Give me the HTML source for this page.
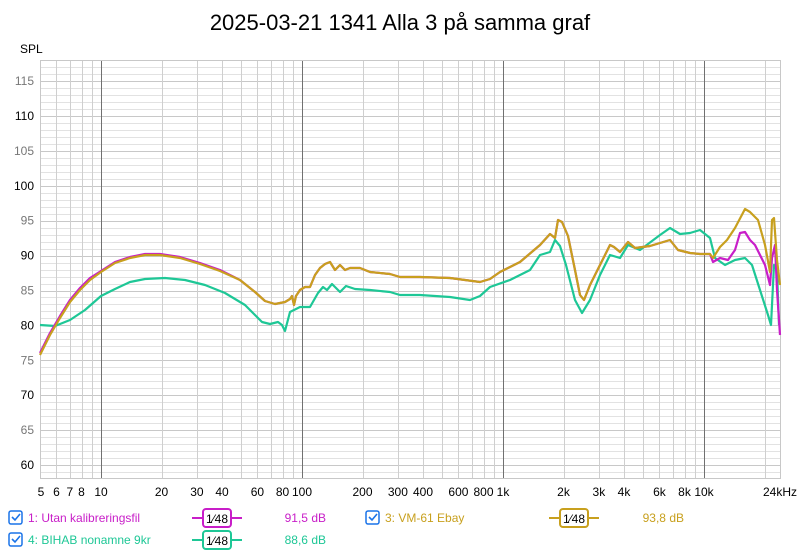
<!DOCTYPE html><html><head><meta charset="utf-8"><style>
body{margin:0;background:#fff;font-family:"Liberation Sans",sans-serif}
</style></head><body>
<svg width="800" height="551" xmlns="http://www.w3.org/2000/svg" font-family="Liberation Sans, sans-serif">
<rect width="800" height="551" fill="#fff"/>
<text x="400" y="30" font-size="22" text-anchor="middle" fill="#000">2025-03-21 1341 Alla 3 på samma graf</text>
<text x="20" y="53" font-size="12" fill="#000">SPL</text>
<g id="grid" stroke="#d4d4d4" stroke-width="1"></g>
<rect x="40.5" y="60.5" width="740" height="418" fill="none" stroke="#c8c8c8"/>
<g id="ylab" font-size="12" fill="#666" text-anchor="end"></g>
<g id="xlab" font-size="12" fill="#000" text-anchor="middle"></g>
<g fill="none" stroke-width="2.2" stroke-linejoin="round">
<polyline id="green" stroke="#1ec796" points="40,325 55,326 70,320 85,310 101,296 115,289 130,282 145,279 165,278 185,280 205,285 225,293 245,305 255,315 262,322 270,324 278,322 282,325 285,331 290,312 300,307 310,307 318,293 323,287 327,290 332,284 336,288 340,292 346,286 355,289 370,290 390,292 400,295 420,295 450,297 470,300 480,296 490,287 510,280 530,270 540,255 550,252 555,240 560,246 566,265 575,300 582,313 590,300 600,275 610,255 620,258 628,245 640,250 660,235 670,228 680,234 690,233 700,230 710,238 715,258 725,265 735,260 745,258 752,265 760,290 768,315 771,325 774,265 777,270 779,325"/>
<polyline id="mag" stroke="#c81ec8" points=""/>
<polyline id="gold" stroke="#c8a01e" points=""/>
</g>
<g font-size="12">
<rect x="9" y="511" width="13" height="13" rx="2" fill="#fff" stroke="#1a73e8" stroke-width="1.5"/><path d="M12 517 l3 3 l5 -6" stroke="#1a73e8" stroke-width="1.6" fill="none"/>
<text x="28" y="522" fill="#c81ec8">1: Utan kalibreringsfil</text>
<line x1="192" y1="518" x2="242" y2="518" stroke="#c81ec8" stroke-width="2"/><rect x="203" y="509" width="28" height="18" rx="3" fill="#fff" stroke="#c81ec8" stroke-width="2"/><text x="217" y="523" text-anchor="middle" fill="#000" font-size="12">1⁄48</text>
<text x="326" y="522" text-anchor="end" fill="#c81ec8">91,5 dB</text>
<rect x="366" y="511" width="13" height="13" rx="2" fill="#fff" stroke="#1a73e8" stroke-width="1.5"/><path d="M369 517 l3 3 l5 -6" stroke="#1a73e8" stroke-width="1.6" fill="none"/>
<text x="385" y="522" fill="#c8a01e">3: VM-61 Ebay</text>
<line x1="549" y1="518" x2="599" y2="518" stroke="#c8a01e" stroke-width="2"/><rect x="560" y="509" width="28" height="18" rx="3" fill="#fff" stroke="#c8a01e" stroke-width="2"/><text x="574" y="523" text-anchor="middle" fill="#000">1⁄48</text>
<text x="684" y="522" text-anchor="end" fill="#c8a01e">93,8 dB</text>
<rect x="9" y="533" width="13" height="13" rx="2" fill="#fff" stroke="#1a73e8" stroke-width="1.5"/><path d="M12 539 l3 3 l5 -6" stroke="#1a73e8" stroke-width="1.6" fill="none"/>
<text x="28" y="544" fill="#1ec796">4: BIHAB nonamne 9kr</text>
<line x1="192" y1="540" x2="242" y2="540" stroke="#1ec796" stroke-width="2"/><rect x="203" y="531" width="28" height="18" rx="3" fill="#fff" stroke="#1ec796" stroke-width="2"/><text x="217" y="545" text-anchor="middle" fill="#000">1⁄48</text>
<text x="326" y="544" text-anchor="end" fill="#1ec796">88,6 dB</text>
</g>
</svg>
<script>
var NS="http://www.w3.org/2000/svg";
function el(p,t,a,txt){var e=document.createElementNS(NS,t);for(var k in a)e.setAttribute(k,a[k]);if(txt!=null)e.textContent=txt;document.getElementById(p).appendChild(e);}
function X(f){return 101+201*Math.log10(f/10);}
function Y(v){return 116+(110-v)*6.98;}
for(var v=59;v<=118;v++){var y=Math.round(Y(v))+0.5;if(y<60||y>478)continue;el("grid","line",{x1:40,x2:780,y1:y,y2:y,stroke:v%5==0?"#c8c8c8":"#e2e2e2"});}
for(var v=60;v<=115;v+=5){el("ylab","text",{x:34,y:Y(v)+4,fill:v%10==0?"#000":"#777"},v);}
var fs=[];[1,10,100,1000].forEach(function(d){for(var i=1;i<10;i++){var f=i*d;if(f>=5&&f<=24000)fs.push(f);}});fs.push(10000,20000);
fs.forEach(function(f){var x=Math.round(X(f))+0.5;if(x<40||x>780)return;var major=[10,100,1000,10000].indexOf(f)>=0;el("grid","line",{x1:x,x2:x,y1:60,y2:478,stroke:major?"#707070":"#cfcfcf"});});
var lab={5:"5",6:"6",7:"7",8:"8",10:"10",20:"20",30:"30",40:"40",60:"60",80:"80",100:"100",200:"200",300:"300",400:"400",600:"600",800:"800",1000:"1k",2000:"2k",3000:"3k",4000:"4k",6000:"6k",8000:"8k",10000:"10k"};
for(var f in lab){el("xlab","text",{x:Math.max(X(+f),41),y:496},lab[f]);}
el("xlab","text",{x:780,y:496},"24kHz");
var base="40,355 50,335 60,318 70,302 80,290 90,280 101,271 115,262 130,257 145,254 160,254 180,257 200,263 220,270 240,280 255,292 265,301 275,304 285,302 290,299 292,296 294,305 296,296 300,290 305,287 310,287 315,275 320,268 325,264 330,262 335,270 340,265 345,270 350,268 360,268 370,272 390,274 400,277 420,277 450,278 480,282 490,279 500,272 520,262 540,245 550,234 555,238 558,220 562,222 568,236 575,270 580,295 584,300 590,285 600,265 610,245 614,247 620,252 628,242 635,248 650,246 660,243 670,240 678,250 690,253 700,254 710,254";
function shift(s,fn){return s.split(" ").map(function(p){var a=p.split(",");var x=+a[0],y=+a[1];return x+","+(y+fn(x));}).join(" ");}
document.getElementById("mag").setAttribute("points",shift(base,function(x){return x<100?-2:0;})+" 713,262 720,258 728,260 735,250 740,233 745,232 750,240 755,245 765,265 770,285 772,258 775,245 777,290 780,335");
document.getElementById("gold").setAttribute("points",shift(base,function(x){return x<100?0:(x<230?1:0);})+" 713,258 720,247 727,240 735,228 745,209 750,212 758,220 765,245 770,272 772,220 774,218 777,260 780,285");
</script>
</body></html>
